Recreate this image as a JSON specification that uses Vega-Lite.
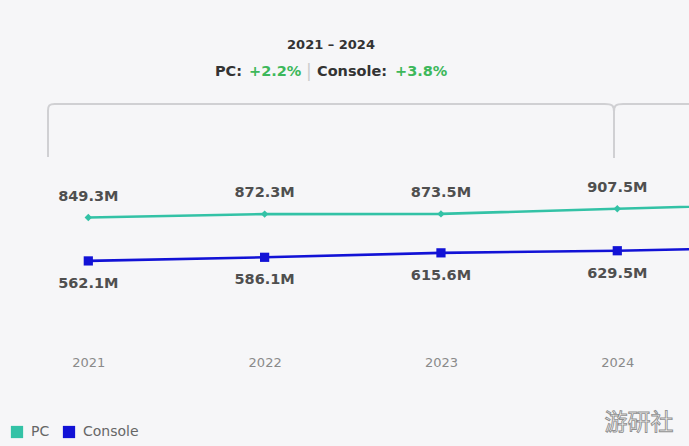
{
  "$schema": "https://vega.github.io/schema/vega-lite/v6.json",
  "width": 689,
  "height": 446,
  "autosize": {"type": "none"},
  "padding": 0,
  "background": "#f6f6f8",
  "config": {
    "view": {"stroke": null},
    "font": "DejaVu Sans",
    "legend": {
      "orient": "none",
      "legendX": 10,
      "legendY": 425,
      "direction": "horizontal",
      "title": null,
      "symbolType": "square",
      "symbolSize": 150,
      "symbolStrokeWidth": 0,
      "labelFont": "DejaVu Sans",
      "labelFontSize": 14,
      "labelColor": "#666666",
      "labelOffset": 7,
      "columnPadding": 12,
      "padding": 0
    }
  },
  "data": {
    "values": [
      {"year": 2021, "value": 849.3, "series": "PC"},
      {"year": 2022, "value": 872.3, "series": "PC"},
      {"year": 2023, "value": 873.5, "series": "PC"},
      {"year": 2024, "value": 907.5, "series": "PC"},
      {"year": 2025, "value": 940.0, "series": "PC"},
      {"year": 2021, "value": 562.1, "series": "Console"},
      {"year": 2022, "value": 586.1, "series": "Console"},
      {"year": 2023, "value": 615.6, "series": "Console"},
      {"year": 2024, "value": 629.5, "series": "Console"},
      {"year": 2025, "value": 655.0, "series": "Console"}
    ]
  },
  "encoding": {
    "x": {
      "field": "year",
      "type": "quantitative",
      "scale": {"domain": [2020.4992, 2024.4067], "nice": false, "zero": false},
      "axis": {
        "values": [2021, 2022, 2023, 2024],
        "format": "d",
        "title": null,
        "grid": false,
        "domain": false,
        "ticks": false,
        "offset": -84,
        "labelPadding": 0,
        "labelBaseline": "middle",
        "labelFont": "DejaVu Sans",
        "labelFontSize": 13,
        "labelColor": "#8a8a8a"
      }
    },
    "y": {
      "field": "value",
      "type": "quantitative",
      "scale": {"domain": [-663.6, 2290.1], "nice": false, "zero": false},
      "axis": null
    }
  },
  "layer": [
    {
      "data": {
        "values": [
          {"g": 1, "i": 0, "year": 2020.7714, "value": 1250.3},
          {"g": 1, "i": 1, "year": 2020.7714, "value": 1250.3},
          {"g": 1, "i": 2, "year": 2020.7714, "value": 1250.3},
          {"g": 1, "i": 3, "year": 2020.7714, "value": 1548.3},
          {"g": 1, "i": 4, "year": 2020.7714, "value": 1548.3},
          {"g": 1, "i": 5, "year": 2020.7714, "value": 1548.3},
          {"g": 1, "i": 6, "year": 2020.7714, "value": 1601.3},
          {"g": 1, "i": 7, "year": 2020.8168, "value": 1601.3},
          {"g": 1, "i": 8, "year": 2020.8168, "value": 1601.3},
          {"g": 1, "i": 9, "year": 2020.8168, "value": 1601.3},
          {"g": 1, "i": 10, "year": 2023.9189, "value": 1601.3},
          {"g": 1, "i": 11, "year": 2023.9189, "value": 1601.3},
          {"g": 1, "i": 12, "year": 2023.9189, "value": 1601.3},
          {"g": 1, "i": 13, "year": 2023.9813, "value": 1601.3},
          {"g": 1, "i": 14, "year": 2023.9813, "value": 1541.7},
          {"g": 1, "i": 15, "year": 2023.9813, "value": 1541.7},
          {"g": 1, "i": 16, "year": 2023.9813, "value": 1541.7},
          {"g": 1, "i": 17, "year": 2023.9813, "value": 1243.7},
          {"g": 1, "i": 18, "year": 2023.9813, "value": 1243.7},
          {"g": 1, "i": 19, "year": 2023.9813, "value": 1243.7},
          {"g": 2, "i": 20, "year": 2023.9813, "value": 1541.7},
          {"g": 2, "i": 21, "year": 2023.9813, "value": 1541.7},
          {"g": 2, "i": 22, "year": 2023.9813, "value": 1541.7},
          {"g": 2, "i": 23, "year": 2023.9813, "value": 1601.3},
          {"g": 2, "i": 24, "year": 2024.0436, "value": 1601.3},
          {"g": 2, "i": 25, "year": 2024.0436, "value": 1601.3},
          {"g": 2, "i": 26, "year": 2024.0436, "value": 1601.3},
          {"g": 2, "i": 27, "year": 2024.5825, "value": 1601.3},
          {"g": 2, "i": 28, "year": 2024.5825, "value": 1601.3},
          {"g": 2, "i": 29, "year": 2024.5825, "value": 1601.3}
        ]
      },
      "mark": {"type": "line", "interpolate": "basis", "color": "#d0d0d3", "strokeWidth": 2, "clip": true},
      "encoding": {
        "detail": {"field": "g"},
        "order": {"field": "i", "type": "quantitative"}
      }
    },
    {
      "transform": [{"filter": "datum.series === 'PC'"}],
      "mark": {"type": "line", "strokeWidth": 2.6, "color": "#33c2a6", "clip": true},
      "encoding": {}
    },
    {
      "transform": [{"filter": "datum.series === 'Console'"}],
      "mark": {"type": "line", "strokeWidth": 2.6, "color": "#1212d6", "clip": true},
      "encoding": {}
    },
    {
      "transform": [{"filter": "datum.series === 'PC'"}],
      "mark": {"type": "point", "shape": "diamond", "size": 55, "filled": true, "opacity": 1, "clip": true},
      "encoding": {
        "color": {
          "field": "series",
          "type": "nominal",
          "sort": ["PC", "Console"],
          "scale": {"domain": ["PC", "Console"], "range": ["#33c2a6", "#1212d6"]}
        }
      }
    },
    {
      "transform": [{"filter": "datum.series === 'Console'"}],
      "mark": {"type": "point", "shape": "square", "size": 85, "filled": true, "opacity": 1, "clip": true},
      "encoding": {
        "color": {
          "field": "series",
          "type": "nominal",
          "sort": ["PC", "Console"],
          "scale": {"domain": ["PC", "Console"], "range": ["#33c2a6", "#1212d6"]}
        }
      }
    },
    {
      "transform": [
        {"filter": "datum.series === 'PC' && datum.year <= 2024"},
        {"calculate": "format(datum.value, '.1f') + 'M'", "as": "label"}
      ],
      "mark": {"type": "text", "dy": -21, "baseline": "middle", "font": "DejaVu Sans", "fontWeight": "bold", "fontSize": 14.5, "color": "#4f4f4f"},
      "encoding": {"text": {"field": "label"}}
    },
    {
      "transform": [
        {"filter": "datum.series === 'Console' && datum.year <= 2024"},
        {"calculate": "format(datum.value, '.1f') + 'M'", "as": "label"}
      ],
      "mark": {"type": "text", "dy": 23, "baseline": "middle", "font": "DejaVu Sans", "fontWeight": "bold", "fontSize": 14.5, "color": "#4f4f4f"},
      "encoding": {"text": {"field": "label"}}
    },
    {
      "data": {"values": [{"year": 2022.3764, "value": 1992.1, "text": "2021 – 2024"}]},
      "mark": {"type": "text", "align": "center", "baseline": "middle", "font": "DejaVu Sans", "fontWeight": "bold", "fontSize": 13, "color": "#333333"},
      "encoding": {"text": {"field": "text"}}
    },
    {
      "data": {
        "values": [
          {"year": 2021.7185, "value": 1813.2, "text": "PC:"},
          {"year": 2022.2970, "value": 1813.2, "text": "Console:"}
        ]
      },
      "mark": {"type": "text", "align": "left", "baseline": "middle", "font": "DejaVu Sans", "fontWeight": "bold", "fontSize": 14.5, "color": "#333333"},
      "encoding": {"text": {"field": "text"}}
    },
    {
      "data": {
        "values": [
          {"year": 2021.9113, "value": 1813.2, "text": "+2.2%"},
          {"year": 2022.7393, "value": 1813.2, "text": "+3.8%"}
        ]
      },
      "mark": {"type": "text", "align": "left", "baseline": "middle", "font": "DejaVu Sans", "fontWeight": "bold", "fontSize": 14.5, "color": "#3db85b"},
      "encoding": {"text": {"field": "text"}}
    },
    {
      "data": {"values": [{"year": 2022.2515, "value": 1813.2, "text": "|"}]},
      "mark": {"type": "text", "align": "center", "baseline": "middle", "font": "DejaVu Sans", "fontSize": 17, "color": "#cccccc"},
      "encoding": {"text": {"field": "text"}}
    },
    {
      "data": {"values": [{"year": 2024.123, "value": -510.0, "text": "游研社"}]},
      "mark": {"type": "text", "align": "center", "baseline": "middle", "font": "Noto Sans CJK SC", "fontSize": 23, "color": "#ffffff", "stroke": "#8f8f8f", "strokeWidth": 0.9},
      "encoding": {"text": {"field": "text"}}
    }
  ]
}
